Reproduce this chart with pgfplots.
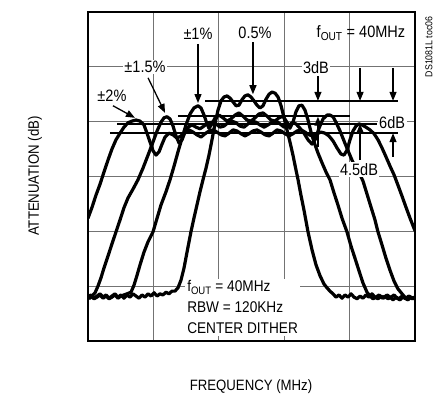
\documentclass[border=0pt]{standalone}
\usepackage{fontspec}
\setmainfont{Liberation Sans}[FakeStretch=0.88]
\usepackage{pgfplots}
\pgfplotsset{compat=1.18}
\usetikzlibrary{arrows.meta}
\tikzset{curve/.style={black, line width=3.2bp, line join=round, line cap=round, mark=none},
  refline/.style={black, line width=1.9bp, mark=none},
  arr/.style={-{Triangle[length=9bp,width=7bp]}, line width=1.3bp}}
\begin{document}
\begin{tikzpicture}[font=\fontsize{15bp}{18bp}\selectfont]
\path[use as bounding box] (0,0) rectangle (438bp,404bp);
\begin{axis}[
  at={(88bp,63bp)}, anchor=south west,
  scale only axis, width=327bp, height=329bp,
  xmin=38.75, xmax=41.25, ymin=-60, ymax=0,
  xtick={39.25,39.75,40.25,40.75}, ytick={-50,-40,-30,-20,-10},
  xticklabels={}, yticklabels={},
  major tick length=0pt,
  grid=major, grid style={black!55, line width=0.9bp},
  axis line style={line width=2.4bp},
]
\begin{scope}[font=\fontsize{16.5bp}{21bp}\selectfont]
\node[fill=white, inner sep=1.5bp] at (axis cs:39.186,-10.0) {±1.5\%};
\node[fill=white, inner sep=1.5bp] at (axis cs:40.493,-10.2) {3dB};
\node[fill=white, inner sep=1.5bp] at (axis cs:41.075,-20.2) {6dB};
\node[fill=white, align=left, anchor=north west, inner sep=2bp, font=\fontsize{15.5bp}{21bp}\selectfont] at (axis cs:39.492,-48.6) {f\textsubscript{OUT} = 40MHz\\RBW = 120KHz\\CENTER DITHER};
\node at (axis cs:39.591,-4.0) {±1\%};
\node at (axis cs:40.027,-3.8) {0.5\%};
\node at (axis cs:40.837,-3.8) {f\textsubscript{OUT} = 40MHz};
\node at (axis cs:38.933,-15.3) {±2\%};
\end{scope}

% reference level lines
\addplot[refline] coordinates {(39.645,-16.2) (41.120,-16.2)};
\addplot[refline] coordinates {(39.438,-19.0) (40.753,-19.0)};
\addplot[refline] coordinates {(38.972,-20.4) (40.960,-20.4)};
\addplot[refline] coordinates {(38.918,-22.1) (41.120,-22.1)};

% 0.5%
\addplot[curve] coordinates {
(38.750,-52.0) (38.773,-51.6) (38.796,-52.2) (38.819,-51.8) (38.842,-51.4) (38.865,-52.0) (38.888,-51.6) (38.911,-52.2) (38.933,-51.8) (38.956,-51.4) (38.979,-52.0) (39.002,-51.6) (39.025,-52.2) (39.048,-51.6) (39.071,-52.0) (39.094,-51.4) (39.117,-51.8) (39.140,-52.2) (39.163,-51.6) (39.186,-52.0) (39.209,-51.4) (39.232,-51.8) (39.255,-51.2) (39.278,-51.8) (39.300,-51.4) (39.323,-51.6) (39.346,-51.1) (39.369,-51.4) (39.392,-50.9) (39.415,-50.9) (39.438,-50.3)
(39.461,-48.9) (39.484,-46.7) (39.507,-43.8) (39.537,-40.1) (39.560,-37.6) (39.583,-35.2) (39.606,-32.8) (39.629,-30.6) (39.652,-28.5) (39.675,-26.1) (39.698,-23.3) (39.721,-20.4) (39.744,-17.9) (39.767,-16.2) (39.790,-15.5) (39.813,-15.3) (39.836,-15.7) (39.859,-16.4) (39.882,-17.1) (39.904,-17.0) (39.927,-16.0) (39.950,-15.3) (39.973,-15.1) (39.996,-15.5) (40.019,-16.2) (40.042,-17.0) (40.065,-17.5) (40.088,-17.1) (40.111,-15.9) (40.134,-15.0) (40.157,-14.6) (40.180,-14.8) (40.203,-15.5) (40.226,-17.1) (40.249,-19.3) (40.271,-21.5) (40.294,-23.7) (40.317,-26.1) (40.340,-28.8) (40.356,-30.6) (40.378,-33.4) (40.401,-36.1) (40.432,-40.1) (40.463,-43.4) (40.493,-46.1) (40.524,-48.1) (40.554,-49.6) (40.577,-50.3) (40.600,-50.9)
(40.623,-51.4) (40.646,-52.0) (40.669,-51.6) (40.692,-52.2) (40.715,-51.6) (40.738,-52.0) (40.761,-51.4) (40.784,-52.0) (40.807,-52.3) (40.830,-51.8) (40.852,-52.2) (40.875,-51.6) (40.898,-52.0) (40.921,-51.4) (40.944,-52.0) (40.967,-52.3) (40.990,-51.8) (41.013,-52.2) (41.036,-51.6) (41.059,-52.0) (41.082,-52.5) (41.105,-52.0) (41.128,-52.3) (41.151,-51.8) (41.174,-52.2) (41.196,-52.5) (41.219,-52.0) (41.242,-52.3) (41.250,-52.2)
};

% +-1%
\addplot[curve] coordinates {
(38.750,-52.2) (38.773,-51.8) (38.796,-52.3) (38.819,-52.0) (38.842,-51.6) (38.865,-52.2) (38.888,-51.8) (38.911,-52.3) (38.933,-52.0) (38.956,-51.6) (38.979,-52.2) (39.002,-51.8) (39.025,-51.6) (39.048,-51.4) (39.079,-51.1)
(39.102,-49.8) (39.125,-48.0) (39.148,-46.1) (39.178,-43.8) (39.209,-41.9) (39.247,-40.1) (39.278,-37.6) (39.308,-35.2) (39.346,-32.8) (39.377,-30.6) (39.408,-28.1) (39.438,-25.5) (39.469,-23.0) (39.499,-20.6) (39.530,-18.6) (39.560,-17.5) (39.591,-17.1) (39.614,-17.5) (39.637,-18.8) (39.660,-20.4) (39.675,-21.2) (39.698,-20.4) (39.721,-19.3) (39.752,-18.8) (39.782,-19.3) (39.813,-19.9) (39.843,-19.5) (39.874,-18.8) (39.904,-18.4) (39.935,-19.0) (39.966,-19.7) (39.996,-19.9) (40.027,-19.3) (40.057,-18.6) (40.088,-18.4) (40.119,-19.0) (40.149,-19.7) (40.180,-19.9) (40.210,-19.3) (40.241,-19.0) (40.271,-20.1) (40.294,-21.2) (40.317,-20.1) (40.340,-18.2) (40.363,-17.1) (40.386,-17.0) (40.409,-17.9) (40.432,-19.7) (40.455,-21.9) (40.478,-23.7) (40.508,-25.7) (40.539,-27.5) (40.570,-29.2) (40.600,-30.6) (40.631,-33.0) (40.661,-35.2) (40.692,-37.6) (40.730,-40.1) (40.761,-42.7) (40.791,-44.9) (40.822,-47.2) (40.852,-49.4) (40.883,-51.1)
(40.906,-51.8) (40.929,-52.3) (40.952,-52.0) (40.975,-51.6) (40.998,-52.2) (41.021,-51.8) (41.044,-52.3) (41.067,-52.0) (41.090,-51.6) (41.112,-52.2) (41.135,-52.5) (41.158,-52.0) (41.181,-52.3) (41.204,-51.8) (41.227,-52.2) (41.250,-52.0)
};

% +-1.5%
\addplot[curve] coordinates {
(38.750,-51.8) (38.765,-52.2) (38.781,-51.8) (38.804,-51.2) (38.826,-50.0) (38.849,-48.5) (38.872,-46.7) (38.903,-44.5) (38.933,-42.3) (38.964,-40.1) (38.995,-37.9) (39.025,-35.7) (39.056,-33.9) (39.094,-32.3) (39.132,-30.6) (39.170,-28.5) (39.209,-26.1) (39.247,-23.7) (39.278,-21.7) (39.308,-20.1) (39.331,-19.3) (39.354,-19.1) (39.377,-19.5) (39.400,-20.8) (39.423,-22.6) (39.446,-23.9) (39.469,-23.3) (39.492,-21.9) (39.515,-21.0) (39.545,-20.6) (39.576,-21.0) (39.606,-21.3) (39.637,-20.8) (39.667,-20.2) (39.698,-20.1) (39.729,-20.4) (39.759,-21.0) (39.790,-20.8) (39.820,-20.2) (39.851,-19.9) (39.882,-20.2) (39.912,-20.8) (39.943,-21.0) (39.973,-20.4) (40.004,-19.9) (40.034,-20.1) (40.065,-20.6) (40.096,-21.0) (40.126,-20.6) (40.157,-20.1) (40.187,-19.9) (40.218,-20.4) (40.249,-21.0) (40.279,-20.8) (40.310,-20.2) (40.340,-20.4) (40.371,-21.2) (40.401,-22.1) (40.432,-23.3) (40.463,-24.1) (40.486,-23.3) (40.516,-21.2) (40.547,-19.5) (40.577,-18.8) (40.600,-18.8) (40.623,-19.1) (40.646,-20.1) (40.677,-21.7) (40.707,-23.5) (40.738,-25.3) (40.768,-27.0) (40.799,-28.5) (40.830,-29.7) (40.852,-30.8) (40.883,-33.2) (40.914,-35.6) (40.944,-37.9) (40.967,-40.1) (40.998,-42.5) (41.028,-44.9) (41.059,-47.1) (41.090,-49.1) (41.120,-50.5) (41.158,-51.6) (41.181,-52.2) (41.204,-51.8) (41.227,-52.3) (41.250,-52.0)
};

% +-2%
\addplot[curve] coordinates {
(38.750,-37.6) (38.781,-35.6) (38.811,-33.4) (38.842,-31.4) (38.872,-29.2) (38.903,-27.0) (38.933,-25.0) (38.964,-23.3) (38.995,-22.1) (39.025,-21.0) (39.056,-20.2) (39.086,-19.9) (39.117,-19.7) (39.148,-19.9) (39.178,-20.6) (39.201,-22.1) (39.224,-23.7) (39.247,-25.3) (39.270,-26.1) (39.293,-25.5) (39.316,-24.1) (39.339,-22.8) (39.369,-22.1) (39.400,-22.4) (39.430,-23.0) (39.461,-22.6) (39.492,-21.9) (39.522,-21.5) (39.553,-21.9) (39.583,-22.4) (39.614,-22.8) (39.645,-22.2) (39.675,-21.7) (39.706,-21.5) (39.736,-21.9) (39.767,-22.4) (39.797,-22.6) (39.828,-22.1) (39.859,-21.5) (39.889,-21.7) (39.920,-22.2) (39.950,-22.6) (39.981,-22.2) (40.011,-21.7) (40.042,-21.5) (40.073,-21.9) (40.103,-22.4) (40.134,-22.6) (40.164,-22.1) (40.195,-21.5) (40.226,-21.7) (40.256,-22.2) (40.287,-22.6) (40.317,-22.2) (40.348,-21.7) (40.378,-21.5) (40.409,-21.9) (40.440,-22.4) (40.470,-22.6) (40.501,-22.2) (40.531,-21.9) (40.562,-22.1) (40.592,-22.6) (40.623,-23.5) (40.654,-24.8) (40.684,-25.9) (40.707,-26.1) (40.730,-25.2) (40.753,-23.3) (40.776,-21.7) (40.799,-20.8) (40.822,-20.4) (40.845,-20.6) (40.875,-21.0) (40.906,-21.5) (40.937,-22.2) (40.967,-23.3) (40.998,-24.8) (41.028,-26.4) (41.059,-28.1) (41.090,-29.7) (41.120,-31.6) (41.151,-33.6) (41.181,-35.6) (41.212,-37.6) (41.250,-39.9)
};

% arrows
\draw[arr] (axis cs:39.591,-5.8) -- (axis cs:39.591,-16.6);
\draw[arr] (axis cs:40.011,-5.5) -- (axis cs:40.011,-15.0);
\draw[arr] (axis cs:39.209,-12.0) -- (axis cs:39.339,-18.4);
\draw[arr] (axis cs:38.941,-17.1) -- (axis cs:39.109,-19.3);
\draw[arr] (axis cs:40.508,-11.7) -- (axis cs:40.508,-16.2);
\draw[arr] (axis cs:40.508,-24.6) -- (axis cs:40.508,-19.1);
\draw[arr] (axis cs:40.830,-10.2) -- (axis cs:40.830,-16.2);
\draw[arr] (axis cs:40.830,-27.0) -- (axis cs:40.830,-20.4);
\draw[arr] (axis cs:41.082,-10.2) -- (axis cs:41.082,-16.2);
\draw[arr] (axis cs:41.082,-26.4) -- (axis cs:41.082,-22.1);
\node[fill=white, inner sep=1.5bp, font=\fontsize{16.5bp}{20bp}\selectfont] at (axis cs:40.822,-28.8) {4.5dB};
\end{axis}
\node[rotate=90] at (35bp,228bp) {ATTENUATION (dB)};
\node at (251bp,17bp) {FREQUENCY (MHz)};
\node[rotate=90, anchor=east, font=\fontsize{10bp}{12bp}\selectfont] at (429bp,391bp) {DS1081L toc06};
\end{tikzpicture}
\end{document}
